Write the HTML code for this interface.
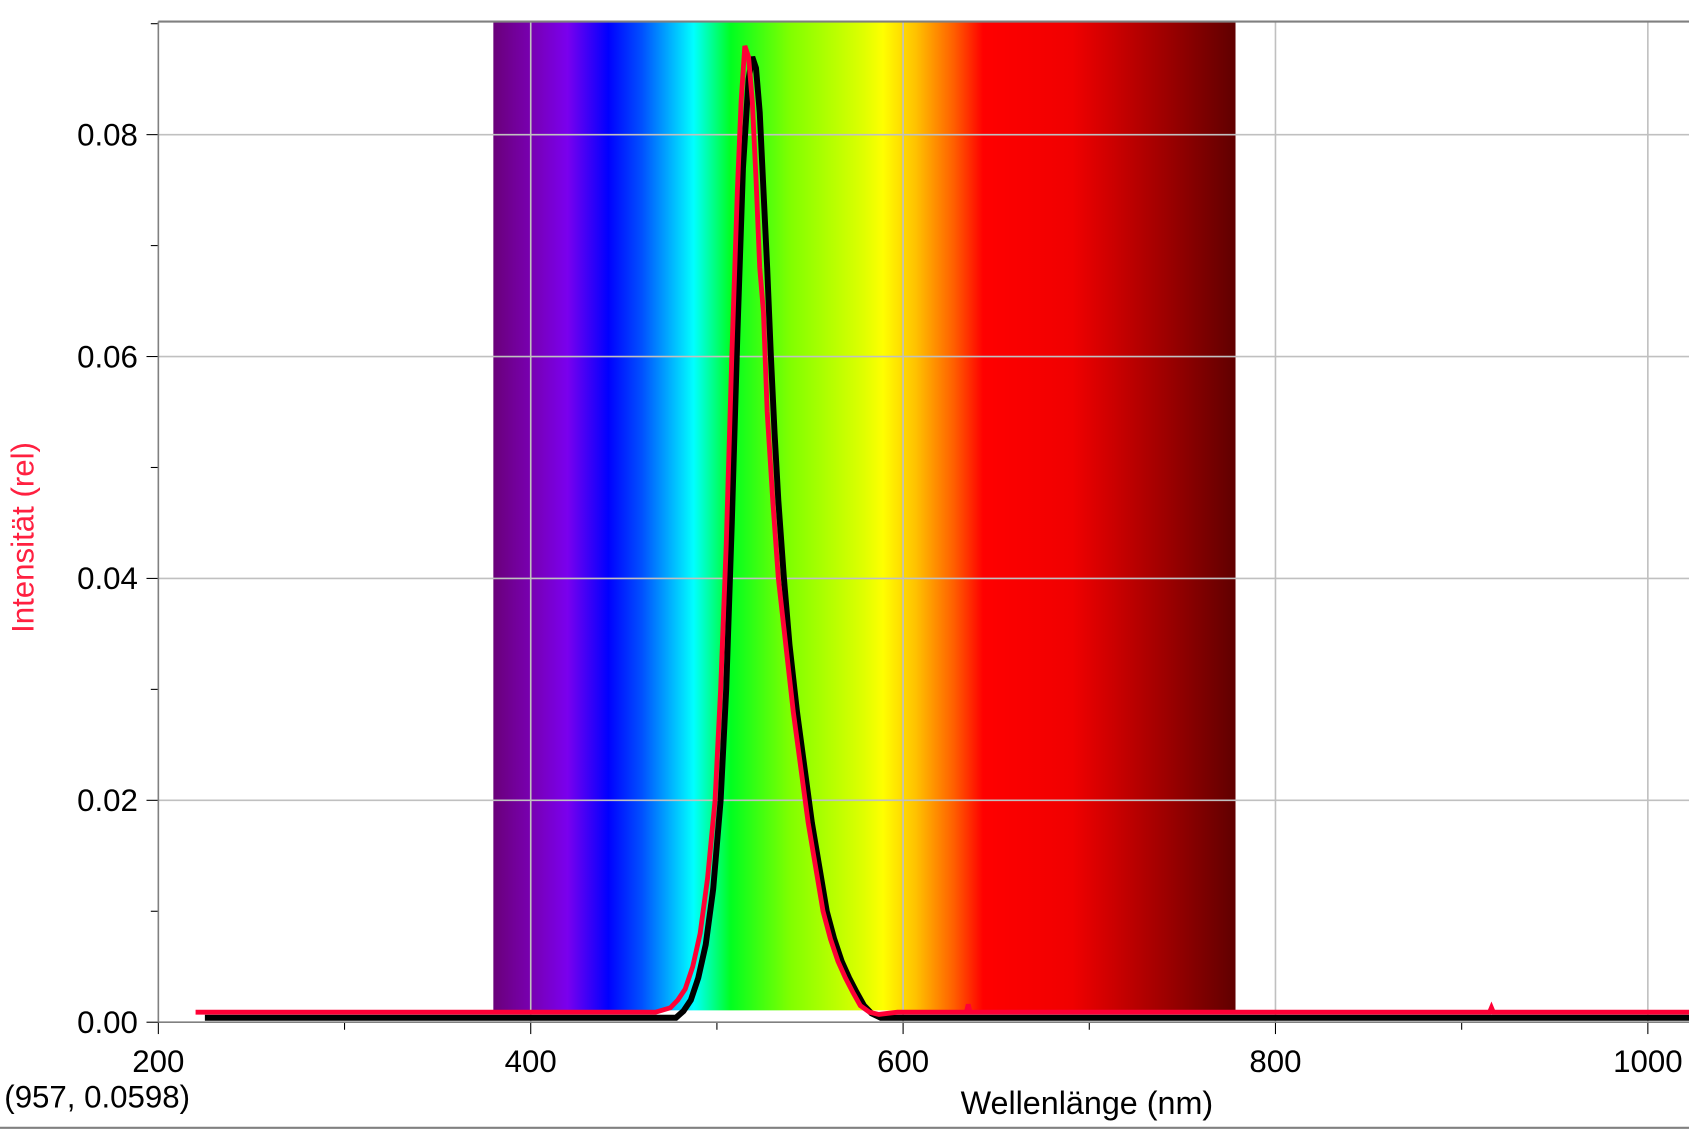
<!DOCTYPE html>
<html><head><meta charset="utf-8"><style>html,body{margin:0;padding:0;background:#fff;}svg{display:block;}text{font-family:"Liberation Sans",sans-serif;}</style></head>
<body>
<svg id="chart" width="1689" height="1131" viewBox="0 0 1568 1050" preserveAspectRatio="none" xmlns="http://www.w3.org/2000/svg">
<defs>
<linearGradient id="spec" x1="0" x2="1" y1="0" y2="0">
<stop offset="0" stop-color="#6a007a"/>
<stop offset="0.05" stop-color="#7800b0"/>
<stop offset="0.10" stop-color="#7a00ee"/>
<stop offset="0.155" stop-color="#0000ff"/>
<stop offset="0.20" stop-color="#0050ff"/>
<stop offset="0.27" stop-color="#00ffff"/>
<stop offset="0.32" stop-color="#00ff20"/>
<stop offset="0.40" stop-color="#80ff00"/>
<stop offset="0.50" stop-color="#e0ff00"/>
<stop offset="0.525" stop-color="#ffff00"/>
<stop offset="0.57" stop-color="#ffc000"/>
<stop offset="0.62" stop-color="#ff6000"/>
<stop offset="0.66" stop-color="#ff0000"/>
<stop offset="0.78" stop-color="#f00000"/>
<stop offset="1" stop-color="#600000"/>
</linearGradient>
</defs>
<rect x="458" y="20" width="689" height="918" fill="url(#spec)"/>
<g id="grid"></g>
<g id="axes"></g>
<g id="series"></g>
<text x="4" y="1028" font-size="29" fill="#000">(957, 0.0598)</text>
<text x="1009" y="1034" font-size="30" text-anchor="middle" fill="#000">Wellenlänge (nm)</text>
<text transform="translate(31,499) rotate(-90)" font-size="29" text-anchor="middle" fill="#ff2040">Intensität (rel)</text>
<line x1="0" y1="1047" x2="1568" y2="1047" stroke="#808080" stroke-width="2"/>
</svg>
<script>
const xTicks=[200,400,600,800,1000];
const yTicks=[0,0.02,0.04,0.06,0.08];
const yTickLabels=["0.00","0.02","0.04","0.06","0.08"];
const redX=[220,467,475,479,483,487,491,495,499,502,505,508,511,513,515,517,519,521,523,525,527,530,533,537,541,545,549,553,557,561,565,569,573,577,582,587,597,634,635,636,800,915,916,917,1040];
const redY=[0.0009,0.0009,0.0013,0.002,0.003,0.005,0.008,0.013,0.02,0.03,0.043,0.06,0.075,0.083,0.088,0.087,0.083,0.076,0.068,0.064,0.055,0.047,0.04,0.034,0.028,0.023,0.018,0.014,0.010,0.0075,0.0055,0.004,0.0027,0.0015,0.0009,0.0007,0.0009,0.0009,0.0016,0.0009,0.0009,0.0009,0.0013,0.0009,0.0009];
const blackX=[225,478,482,486,490,494,498,502,505,508,511,514,517,519,521,523,525,527,529,531,533,536,539,543,547,551,555,559,563,567,571,575,579,583,588,598,1040];
const blackY=[0.0004,0.0004,0.001,0.002,0.004,0.007,0.012,0.02,0.03,0.045,0.062,0.077,0.085,0.087,0.086,0.082,0.075,0.068,0.06,0.053,0.047,0.04,0.034,0.028,0.023,0.018,0.014,0.010,0.0075,0.0055,0.004,0.0027,0.0015,0.0008,0.0004,0.0004,0.0004];
const X=v=>147+(v-200)*1.7285;
const Y=v=>949-v*10300;
const NS="http://www.w3.org/2000/svg";
function mk(t,a,p){const e=document.createElementNS(NS,t);for(const k in a)e.setAttribute(k,a[k]);p.appendChild(e);return e;}
const grid=document.getElementById('grid'),axes=document.getElementById('axes'),series=document.getElementById('series');
xTicks.forEach((v,i)=>{if(v>200){const l=mk('line',{x1:X(v),x2:X(v),y1:20,y2:949,stroke:'#c0c0c0','stroke-width':1.5},grid);

}
const t=mk('text',{x:X(v),y:995,'font-size':29,'text-anchor':'middle',fill:'#000'},axes);t.textContent=v;


mk('line',{x1:X(v),x2:X(v),y1:949,y2:960,stroke:'#000'},axes);
if(i<xTicks.length-1){const mid=(v+xTicks[i+1])/2;mk('line',{x1:X(mid),x2:X(mid),y1:949,y2:956,stroke:'#000'},axes);}});
yTicks.forEach((v,i)=>{if(v>0){const l=mk('line',{x1:147,x2:1568,y1:Y(v),y2:Y(v),stroke:'#c0c0c0','stroke-width':1.5},grid);

}
const t=mk('text',{x:128,y:Y(v)+10,'font-size':29,'text-anchor':'end',fill:'#000'},axes);t.textContent=yTickLabels[i];


mk('line',{x1:136,x2:147,y1:Y(v),y2:Y(v),stroke:'#000'},axes);
mk('line',{x1:140,x2:147,y1:Y(v+0.01),y2:Y(v+0.01),stroke:'#000'},axes);});
mk('line',{x1:147,x2:147,y1:20,y2:949,stroke:'#808080','stroke-width':1.5},axes);
mk('line',{x1:147,x2:1568,y1:20,y2:20,stroke:'#808080','stroke-width':2},axes);
mk('line',{x1:147,x2:1568,y1:949,y2:949,stroke:'#808080','stroke-width':1.5},axes);
const pb=mk('polyline',{points:blackX.map((x,i)=>X(x)+','+Y(blackY[i])).join(' '),fill:'none',stroke:'#000','stroke-width':5.5},series);


const pr=mk('polyline',{points:redX.map((x,i)=>X(x)+','+Y(redY[i])).join(' '),fill:'none',stroke:'#ff0035','stroke-width':4.5},series);


</script>
</body></html>
